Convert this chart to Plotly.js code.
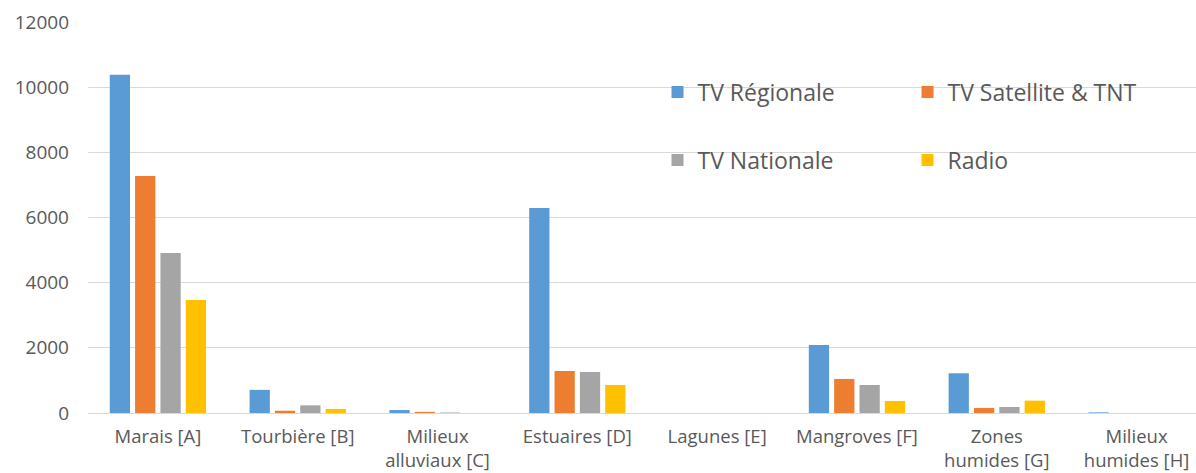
<!DOCTYPE html>
<html><head><meta charset="utf-8">
<script src="https://cdn.plot.ly/plotly-3.0.1.min.js"></script>
<style>html,body{margin:0;padding:0;background:#fff;}</style>
</head><body>
<div id="chart" style="width:1196px;height:473px;"></div>
<script>
const categories = ["Marais [A]", "Tourbière [B]", "Milieux<br>alluviaux [C]", "Estuaires [D]", "Lagunes [E]", "Mangroves [F]", "Zones<br>humides [G]", "Milieux<br>humides [H]"];
const tvRegionale = [10380, 710, 90, 6290, 0, 2085, 1220, 20];
const tvSatellite = [7275, 70, 35, 1290, 0, 1045, 155, 0];
const tvNationale = [4910, 235, 15, 1260, 0, 860, 185, 0];
const radio = [3470, 125, 0, 860, 0, 370, 380, 0];
const seriesNames = ["TV Régionale", "TV Satellite & TNT", "TV Nationale", "Radio"];
const colors = ["#5B9BD5", "#ED7D31", "#A5A5A5", "#FFC000"];
const yTicks = [0, 2000, 4000, 6000, 8000, 10000, 12000];

const allSeries = [tvRegionale, tvSatellite, tvNationale, radio];
const legendIds = ["legend", "legend", "legend2", "legend2"];
const data = allSeries.map((vals, i) => ({
  type: "bar", x: categories, y: vals, name: seriesNames[i],
  marker: {color: colors[i]}, legend: legendIds[i], hoverinfo: "y"
}));

const fontFam = "'Open Sans', 'Noto Sans', sans-serif";
const legendBase = {
  orientation: "h", xref: "paper", yref: "paper", xanchor: "left", yanchor: "middle",
  bgcolor: "rgba(0,0,0,0)", font: {family: fontFam, size: 23, color: "#595959"},
  entrywidth: 205, entrywidthmode: "pixels", itemwidth: 30
};
const layout = {
  width: 1196, height: 473,
  margin: {l: 88, r: 0, t: 22, b: 60},
  paper_bgcolor: "#fff", plot_bgcolor: "#fff",
  font: {family: fontFam, color: "#595959"},
  barmode: "group", bargap: 0.275, bargroupgap: 0.2,
  showlegend: true,
  legend: Object.assign({}, legendBase, {x: 0.514, y: (413 - 92) / 391}),
  legend2: Object.assign({}, legendBase, {x: 0.514, y: (413 - 160) / 391}),
  xaxis: {
    type: "category", range: [-0.5, 7.425], tickfont: {size: 18.5, color: "#595959"},
    showline: true, linecolor: "#D9D9D9", linewidth: 1, ticks: "",
    showgrid: false, zeroline: false, ticklabelstandoff: 7, automargin: false
  },
  yaxis: {
    range: [0, 12000], tickvals: yTicks, ticktext: yTicks.map(String),
    tickfont: {size: 19, color: "#595959"}, showgrid: true, gridcolor: "#D9D9D9",
    gridwidth: 1, zeroline: false, showline: false, ticks: "",
    ticklabelstandoff: 18, automargin: false
  }
};
Plotly.newPlot("chart", data, layout, {displayModeBar: false, staticPlot: true});
</script>
</body></html>
